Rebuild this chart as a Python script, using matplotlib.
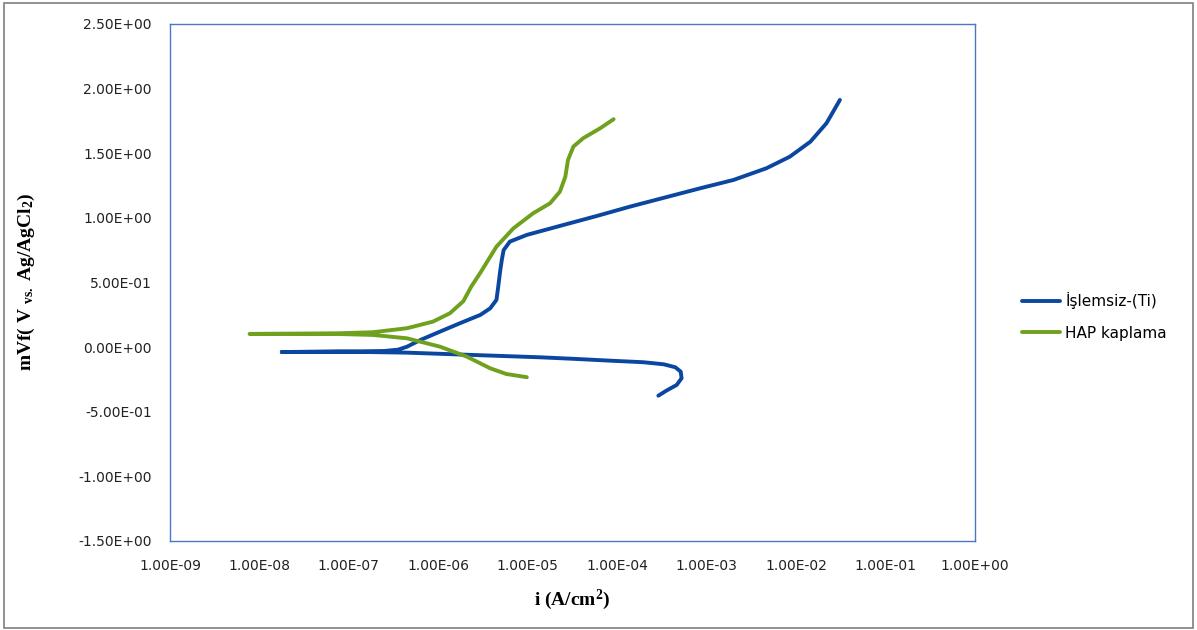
import matplotlib
matplotlib.use("Agg")
import matplotlib.pyplot as plt
from matplotlib.patches import Rectangle

# log10 of current density and potential (V)
# uncoated Ti: cathodic end -> left tip -> anodic end
ti_logi = [-3.54, -3.45, -3.335, -3.28, -3.29, -3.35, -3.48, -3.71, -4.08, -4.45,
           -4.86, -5.61, -6.35, -7.10, -7.75,
           -7.10, -6.60, -6.45, -6.35, -6.20, -5.98, -5.76, -5.53, -5.42, -5.35,
           -5.33, -5.31, -5.29, -5.27, -5.20, -5.01, -4.60, -4.23, -3.86, -3.07,
           -2.70, -2.33, -2.07, -1.84, -1.66, -1.51]
ti_v = [-0.376, -0.337, -0.293, -0.241, -0.190, -0.156, -0.133, -0.117, -0.105, -0.092,
        -0.079, -0.061, -0.043, -0.035, -0.038,
        -0.035, -0.030, -0.020, 0.003, 0.055, 0.12, 0.184, 0.249, 0.30, 0.365,
        0.467, 0.58, 0.674, 0.75, 0.816, 0.868, 0.945, 1.014, 1.086, 1.229,
        1.293, 1.384, 1.473, 1.589, 1.732, 1.912]

# HAP coated: cathodic end -> left tip -> anodic end
hap_logi = [-5.01, -5.24, -5.42, -5.68, -5.98, -6.35, -6.73, -7.10, -7.60, -8.11,
            -7.60, -7.10, -6.73, -6.35, -6.06, -5.87, -5.72, -5.63, -5.53, -5.35,
            -5.16, -4.94, -4.75, -4.64, -4.58, -4.55, -4.49, -4.38, -4.19, -4.04]
hap_v = [-0.233, -0.208, -0.164, -0.074, 0.003, 0.068, 0.094, 0.101, 0.102, 0.102,
         0.104, 0.107, 0.115, 0.146, 0.197, 0.262, 0.355, 0.47, 0.575, 0.777,
         0.919, 1.035, 1.113, 1.203, 1.318, 1.448, 1.551, 1.616, 1.693, 1.763]

x_ticks = [1e-9, 1e-8, 1e-7, 1e-6, 1e-5, 1e-4, 1e-3, 1e-2, 1e-1, 1e0]
x_labels = ["1.00E-09", "1.00E-08", "1.00E-07", "1.00E-06", "1.00E-05",
            "1.00E-04", "1.00E-03", "1.00E-02", "1.00E-01", "1.00E+00"]
y_ticks = [2.5, 2.0, 1.5, 1.0, 0.5, 0.0, -0.5, -1.0, -1.5]
y_labels = ["2.50E+00", "2.00E+00", "1.50E+00", "1.00E+00", "5.00E-01",
            "0.00E+00", "-5.00E-01", "-1.00E+00", "-1.50E+00"]

plt.rcParams['mathtext.fontset'] = 'custom'
plt.rcParams['mathtext.rm'] = 'Liberation Serif:bold'
plt.rcParams['mathtext.it'] = 'Liberation Serif:italic:bold'
plt.rcParams['mathtext.bf'] = 'Liberation Serif:bold'

fig = plt.figure(figsize=(11.97, 6.3), dpi=100)
fig.patches.append(Rectangle((0.003, 0.003), 0.994, 0.992, transform=fig.transFigure,
                             fill=False, edgecolor='#7f7f7f', linewidth=1.2))
ax = fig.add_axes([0.142, 0.1413, 0.6725, 0.8207])

ax.plot([10 ** v for v in ti_logi], ti_v, color='#0B47A1', linewidth=2.8,
        label='İşlemsiz-(Ti)', solid_capstyle='round', solid_joinstyle='round')
ax.plot([10 ** v for v in hap_logi], hap_v, color='#6FA11E', linewidth=2.8,
        label='HAP kaplama', solid_capstyle='round', solid_joinstyle='round')

ax.set_xscale('log')
ax.set_xlim(1e-9, 1e0)
ax.set_ylim(-1.5, 2.5)
ax.set_xticks(x_ticks)
ax.set_xticklabels(x_labels)
ax.set_yticks(y_ticks)
ax.set_yticklabels(y_labels)
ax.minorticks_off()
ax.tick_params(axis='both', length=0, labelsize=10, pad=13, colors='#222222')
for s in ax.spines.values():
    s.set_color('#4A78C4')
    s.set_linewidth(1.0)

ax.set_xlabel('i (A/cm$^{2}$)', fontsize=14, fontweight='bold', family='Liberation Serif')
ax.xaxis.set_label_coords(0.5, -0.09)
ax.set_ylabel(r'mVf( V $_{\mathrm{vs.}}$ Ag/AgCl$_{2}$)', fontsize=14,
              fontweight='bold', family='Liberation Serif')
ax.yaxis.set_label_coords(-0.165, 0.5)

fig.legend(loc='center left', bbox_to_anchor=(0.854, 0.498), frameon=False,
           fontsize=11, handlelength=2.5, labelspacing=1.1, borderpad=0,
           borderaxespad=0, handletextpad=0.3)

plt.savefig('out.png', dpi=100)
